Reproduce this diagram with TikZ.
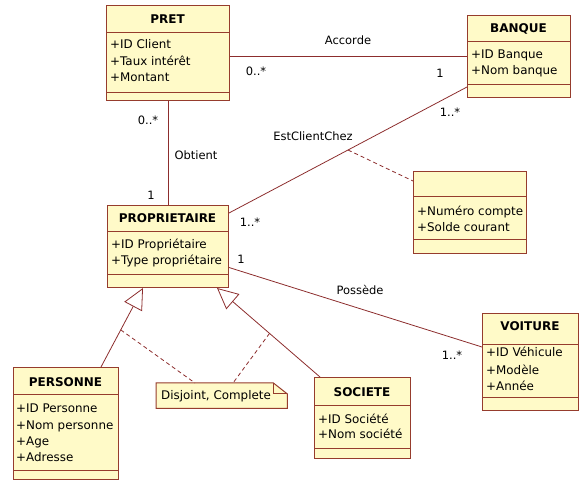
\documentclass[tikz,border=0pt]{standalone}
\usepackage{fontspec}
\setmainfont{DejaVu Sans}
\usetikzlibrary{arrows.meta,calc}
\definecolor{clsfill}{RGB}{255,250,200}
\definecolor{clsdraw}{RGB}{150,60,45}
\definecolor{linkcol}{RGB}{140,45,45}
\begin{document}
\begin{tikzpicture}[x=1pt,y=-1pt,
  every node/.style={font=\fontsize{11.5}{14}\selectfont, inner sep=0pt},
  clsbox/.style={draw=clsdraw, fill=clsfill, line width=1pt, anchor=north west, rectangle},
  sepline/.style={draw=clsdraw, line width=1pt},
  clstitle/.style={font=\fontsize{12}{14}\selectfont\bfseries, anchor=base},
  attr/.style={anchor=base west, font=\fontsize{11.9}{14}\selectfont},
  link/.style={draw=linkcol, line width=0.8pt},
  dlink/.style={draw=linkcol, line width=0.8pt, dash pattern=on 4pt off 3pt},
  gen/.style={link, -{Triangle[open, length=21pt, width=20pt, line width=0.8pt]}}]
\useasboundingbox (0,0) rectangle (579,481);

% ---------- class boxes ----------
\node[clsbox, minimum width=123pt, minimum height=95pt] (pret) at (106,5) {};
\draw[sepline] (pret.west |- 0,33) -- (pret.east |- 0,33);
\draw[sepline] (pret.west |- 0,93) -- (pret.east |- 0,93);
\node[clstitle] (pret-t) at (167.5,24) {PRET};
\foreach \t [count=\i from 0] in {+ID Client,+Taux intérêt,+Montant}
  \node[attr] (pret-a\i) at (110,49+16.5*\i) {\t};

\node[clsbox, minimum width=103pt, minimum height=82pt] (banque) at (467,15) {};
\draw[sepline] (banque.west |- 0,42) -- (banque.east |- 0,42);
\draw[sepline] (banque.west |- 0,85) -- (banque.east |- 0,85);
\node[clstitle] (banque-t) at (518.5,33) {BANQUE};
\foreach \t [count=\i from 0] in {+ID Banque,+Nom banque}
  \node[attr] (banque-a\i) at (471,59+16*\i) {\t};

\node[clsbox, minimum width=113pt, minimum height=82pt] (assoc) at (413,171) {};
\draw[sepline] (assoc.west |- 0,197) -- (assoc.east |- 0,197);
\draw[sepline] (assoc.west |- 0,240) -- (assoc.east |- 0,240);
\foreach \t [count=\i from 0] in {+Numéro compte,+Solde courant}
  \node[attr] (assoc-a\i) at (417,216+15.5*\i) {\t};

\node[clsbox, minimum width=121pt, minimum height=82pt] (prop) at (107,205) {};
\draw[sepline] (prop.west |- 0,232) -- (prop.east |- 0,232);
\draw[sepline] (prop.west |- 0,275) -- (prop.east |- 0,275);
\node[clstitle] (prop-t) at (167.5,223) {PROPRIETAIRE};
\foreach \t [count=\i from 0] in {+ID Propriétaire,+Type propriétaire}
  \node[attr] (prop-a\i) at (111,249+16*\i) {\t};

\node[clsbox, minimum width=105pt, minimum height=112pt] (pers) at (13,367) {};
\draw[sepline] (pers.west |- 0,395) -- (pers.east |- 0,395);
\draw[sepline] (pers.west |- 0,470) -- (pers.east |- 0,470);
\node[clstitle] (pers-t) at (65.5,386) {PERSONNE};
\foreach \t [count=\i from 0] in {+ID Personne,+Nom personne,+Age,+Adresse}
  \node[attr] (pers-a\i) at (16,413+16*\i) {\t};

\node[clsbox, minimum width=96pt, minimum height=81pt] (soc) at (314,377) {};
\draw[sepline] (soc.west |- 0,405) -- (soc.east |- 0,405);
\draw[sepline] (soc.west |- 0,448) -- (soc.east |- 0,448);
\node[clstitle] (soc-t) at (362,396) {SOCIETE};
\foreach \t [count=\i from 0] in {+ID Société,+Nom société}
  \node[attr] (soc-a\i) at (318,423+15.5*\i) {\t};

\node[clsbox, minimum width=96pt, minimum height=97pt] (voit) at (482,313) {};
\draw[sepline] (voit.west |- 0,345) -- (voit.east |- 0,345);
\draw[sepline] (voit.west |- 0,398) -- (voit.east |- 0,398);
\node[clstitle] (voit-t) at (530,331) {VOITURE};
\foreach \t [count=\i from 0] in {+ID Véhicule,+Modèle,+Année}
  \node[attr] (voit-a\i) at (486,357+17*\i) {\t};

% ---------- note ----------
\node[minimum width=131pt, minimum height=25pt, anchor=north west] (note) at (156,383) {};
\draw[draw=clsdraw, fill=clsfill, line width=1pt]
  (note.north west) -- ([xshift=-14pt]note.north east) -- ([yshift=-11pt]note.north east)
  -- (note.south east) -- (note.south west) -- cycle;
\draw[draw=clsdraw, line width=1pt]
  ([xshift=-14pt]note.north east) -- ([xshift=-14pt,yshift=-11pt]note.north east)
  -- ([yshift=-11pt]note.north east);
\node[anchor=west, font=\fontsize{11.9}{14}\selectfont] (note-t) at (161,396) {Disjoint, Complete};

% ---------- associations ----------
\draw[link] (pret.east |- 0,56) -- (banque.west |- 0,56);
\node (accorde) at (348,40) {Accorde};
\node (m1) at (256,71) {0..*};
\node (m2) at (440,73) {1};

\draw[link] (pret.south) -- (prop.north);
\node (m3) at (148,120) {0..*};
\node (obtient) at (196,155) {Obtient};
\node (m4) at (151,195) {1};

\coordinate (ecA) at ([yshift=-8pt]prop.north east);
\coordinate (ecB) at ([yshift=11pt]banque.south west);
\draw[link] (ecA) -- (ecB);
\draw[dlink] ($(ecA)!0.5!(ecB)$) -- ([yshift=-10pt]assoc.north west);
\node (ec) at (313,136) {EstClientChez};
\node (m5) at (450,112) {1..*};
\node (m6) at (250,222) {1..*};

\coordinate (poA) at ([yshift=-21pt]prop.east);
\coordinate (poB) at ([yshift=-34pt]voit.north west);
\draw[link] (poA) -- (poB);
\node (possede) at (360,290) {Possède};
\node (m7) at (241,259) {1};
\node (m8) at (452,355) {1..*};

% ---------- generalizations ----------
\coordinate (gpA) at ([xshift=-18pt]pers.north east);
\coordinate (gpB) at ([xshift=36pt]prop.south west);
\draw[gen] (gpA) -- (gpB);
\coordinate (gsA) at ([xshift=6pt]soc.north west);
\coordinate (gsB) at ([xshift=-12pt]prop.south east);
\draw[gen] (gsA) -- (gsB);
\draw[dlink] ($(gpA)!0.47!(gpB)$) -- ([xshift=39pt]note.north west);
\draw[dlink] ($(gsA)!0.49!(gsB)$) -- ([xshift=77pt]note.north west);
\end{tikzpicture}
\end{document}
